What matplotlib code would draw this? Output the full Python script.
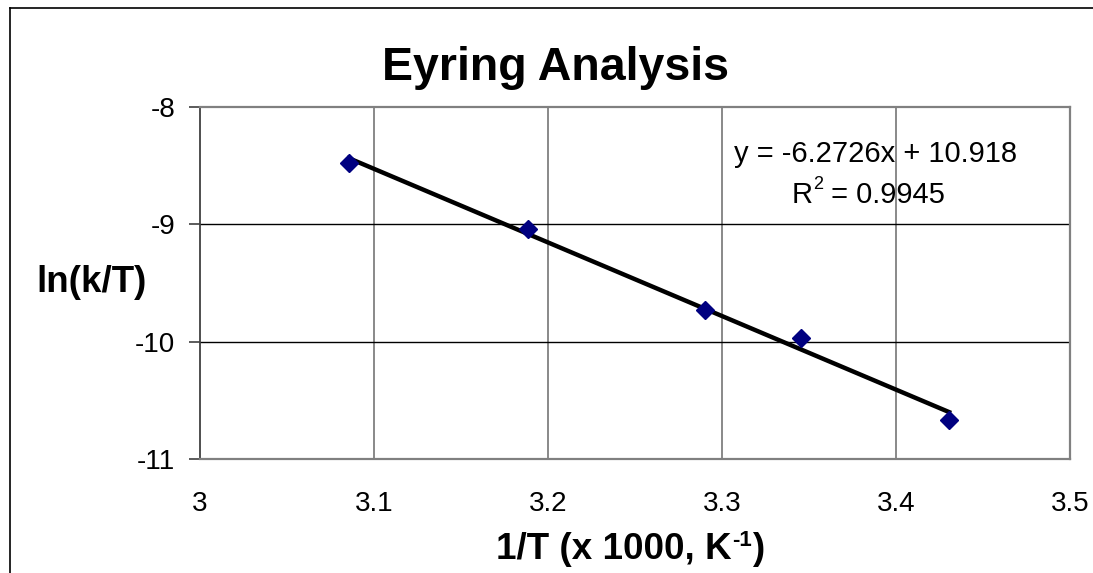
import matplotlib
matplotlib.use("Agg")
import matplotlib.pyplot as plt
from matplotlib.lines import Line2D
from matplotlib.transforms import offset_copy
import numpy as np

# Eyring data: 1/T (x1000, K^-1) and ln(k/T)
inv_T = [3.0856, 3.1883, 3.2902, 3.3454, 3.4305]
ln_k_over_T = [-8.477, -9.040, -9.731, -9.969, -10.668]

# Linear fit reported on the chart
slope = -6.2726
intercept = 10.918
r_squared = 0.9945

x_ticks = [3.0, 3.1, 3.2, 3.3, 3.4, 3.5]
x_tick_labels = ["3", "3.1", "3.2", "3.3", "3.4", "3.5"]
y_ticks = [-11, -10, -9, -8]
y_tick_labels = ["-11", "-10", "-9", "-8"]

plt.rcParams['font.family'] = ['Liberation Sans', 'DejaVu Sans']

W, H = 1093, 573
fig = plt.figure(figsize=(W / 100, H / 100), dpi=100)
renderer = fig.canvas.get_renderer()

# Chart-area border (left and top edges visible)
fig.add_artist(Line2D([10 / W, 10 / W], [0, 1 - 8 / H], transform=fig.transFigure,
                      color="black", lw=1.2))
fig.add_artist(Line2D([10 / W, 1], [1 - 8 / H, 1 - 8 / H], transform=fig.transFigure,
                      color="black", lw=1.2))

ax = fig.add_axes([200 / W, (H - 459) / H, 870 / W, 352 / H])
ax.set_xlim(3.0, 3.5)
ax.set_ylim(-11, -8)

# Gridlines: vertical grey, horizontal black
for xv in x_ticks[1:-1]:
    ax.axvline(xv, color="#808080", lw=1.3, zorder=1)
for yv in y_ticks[1:-1]:
    ax.axhline(yv, color="black", lw=1.0, zorder=1)

for side in ["top", "right", "bottom"]:
    ax.spines[side].set_color("#808080")
    ax.spines[side].set_linewidth(1.6)
ax.spines["left"].set_color("#404040")
ax.spines["left"].set_linewidth(1.3)

ax.set_xticks(x_ticks)
ax.set_xticklabels(x_tick_labels)
ax.set_yticks(y_ticks)
ax.set_yticklabels(y_tick_labels)
ax.tick_params(axis="x", length=0, pad=23, labelsize=20)
ax.tick_params(axis="y", length=8, width=1.2, color="#404040", pad=10, labelsize=20)

# Trendline over the data range
xs = np.array([min(inv_T), max(inv_T)])
ax.plot(xs, slope * xs + intercept, color="black", lw=3.2, zorder=3)

ax.plot(inv_T, ln_k_over_T, linestyle="none", marker="D", markersize=9,
        color="#000080", markeredgecolor="#000080", zorder=4)

# Fit equation and R^2 (superscript drawn as a separate smaller text)
ax.text(3.388, -8.47, f"y = {slope:.4f}x + {intercept:.3f}", fontsize=21,
        ha="center", va="baseline", zorder=5)
r_x, r_y = 3.384, -8.82
r_main = ax.text(r_x, r_y, "R", fontsize=21, ha="left", va="baseline", zorder=5)
r_rest = f" = {r_squared:.4f}"
# measure pieces to center the whole "R² = ..." line
w_R = r_main.get_window_extent(renderer).width
tmp = ax.text(0, 0, "2", fontsize=13)
w_2 = tmp.get_window_extent(renderer).width
tmp.remove()
tmp = ax.text(0, 0, r_rest, fontsize=21)
w_rest = tmp.get_window_extent(renderer).width
tmp.remove()
total = w_R + w_2 + w_rest
cx_pix = ax.transData.transform((r_x, r_y))
start = ax.transData.inverted().transform((cx_pix[0] - total / 2, cx_pix[1]))
r_main.set_position((start[0], r_y))
ax.text(start[0], r_y, "2", fontsize=13, ha="left", va="baseline", zorder=5,
        transform=offset_copy(ax.transData, fig=fig, x=w_R * 72 / 100, y=10, units="points"))
ax.text(start[0], r_y, r_rest, fontsize=21, ha="left", va="baseline", zorder=5,
        transform=offset_copy(ax.transData, fig=fig, x=(w_R + w_2) * 72 / 100, y=0, units="points"))

fig.text(555 / W, 1 - 80 / H, "Eyring Analysis", fontsize=33.5, fontweight="bold",
         ha="center", va="baseline")
fig.text(92 / W, 1 - 283 / H, "ln(k/T)", fontsize=26.5, fontweight="bold",
         ha="center", va="center")

# X-axis title with a hyphen superscript
xl_main = "1/T (x 1000, K"
xl_sup = "-1"
xl_end = ")"
fs_main, fs_sup = 26.5, 16
pieces = []
for s, fs in [(xl_main, fs_main), (xl_sup, fs_sup), (xl_end, fs_main)]:
    t = fig.text(0, 0, s, fontsize=fs, fontweight="bold")
    pieces.append(t.get_window_extent(renderer).width)
    t.remove()
x0 = 630 - sum(pieces) / 2
base_y = 1 - 559 / H
fig.text(x0 / W, base_y, xl_main, fontsize=fs_main, fontweight="bold",
         ha="left", va="baseline")
fig.text((x0 + pieces[0]) / W, base_y + 13 / H, xl_sup, fontsize=fs_sup,
         fontweight="bold", ha="left", va="baseline")
fig.text((x0 + pieces[0] + pieces[1]) / W, base_y, xl_end, fontsize=fs_main,
         fontweight="bold", ha="left", va="baseline")

fig.savefig("out.png", dpi=100, facecolor="white")
